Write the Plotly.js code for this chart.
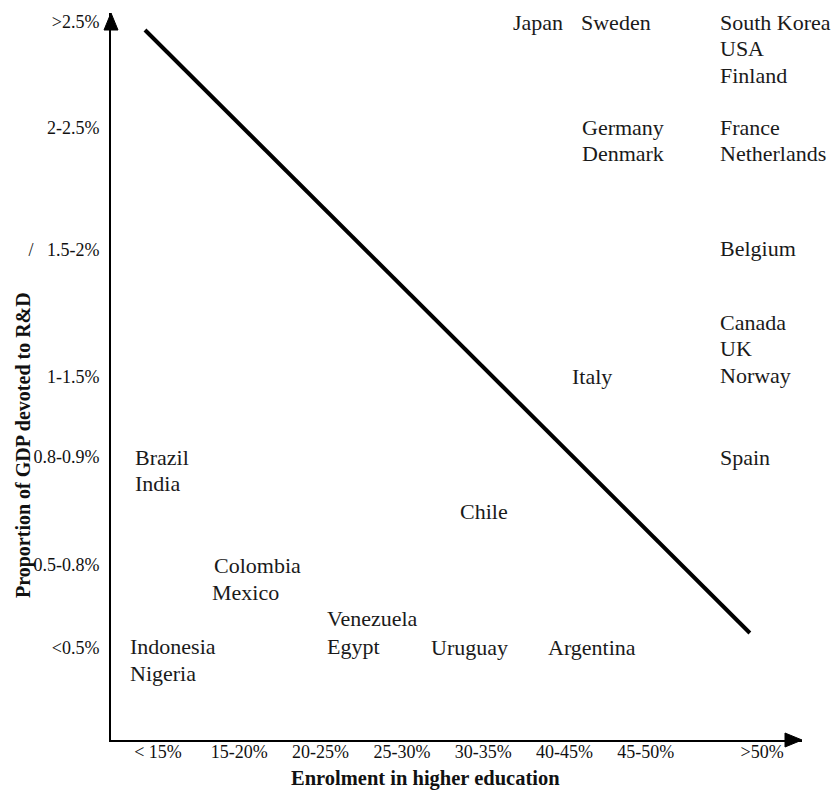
<!DOCTYPE html>
<html>
<head>
<meta charset="utf-8">
<script src="https://cdn.plot.ly/plotly-3.0.1.min.js"></script>
<style>
  html, body { margin: 0; padding: 0; background: #fff; }
  #chart { width: 839px; height: 793px; }
</style>
</head>
<body>
<div id="chart"></div>
<script>
// ---- Data ----
// Enrolment bands (x) and their positions on the enrolment axis
const enrolLabels = ['< 15%', '15-20%', '20-25%', '25-30%', '30-35%', '40-45%', '45-50%', '>50%'];
const enrolTickPos = [0, 1, 2, 3, 4, 5, 6, 7.43];

// R&D bands (y) and their positions on the R&D axis
const rdLabels = ['<0.5%', '0.5-0.8%', '0.8-0.9%', '1-1.5%', '/\u00a0\u00a0\u00a01.5-2%', '2-2.5%', '>2.5%'];
const rdTickPos = [0.92, 1.75, 2.83, 3.63, 4.90, 6.12, 7.18];

// Countries with their placement (enrolment axis, R&D axis)
const countries = ['Japan', 'Sweden', 'South Korea', 'USA', 'Finland',
  'Germany', 'Denmark', 'France', 'Netherlands', 'Belgium',
  'Canada', 'UK', 'Norway', 'Italy', 'Spain',
  'Brazil', 'India', 'Chile', 'Colombia', 'Mexico',
  'Venezuela', 'Egypt', 'Uruguay', 'Argentina', 'Indonesia', 'Nigeria'];
const enrolPos = [4.34, 5.18, 6.89, 6.89, 6.89,
  5.19, 5.19, 6.89, 6.89, 6.89,
  6.89, 6.89, 6.89, 5.07, 6.89,
  -0.31, -0.31, 3.69, 0.66, 0.64,
  2.05, 2.05, 3.33, 4.77, -0.37, -0.37];
const rdPos = [7.18, 7.18, 7.18, 6.92, 6.65,
  6.13, 5.87, 6.13, 5.87, 4.92,
  4.18, 3.92, 3.65, 3.64, 2.83,
  2.83, 2.57, 2.29, 1.75, 1.48,
  1.22, 0.94, 0.93, 0.93, 0.94, 0.67];

// Trend line end points
const trendX = [-0.16, 7.28];
const trendY = [7.10, 1.07];

// ---- Layout geometry ----
const W = 839, H = 793;
const M = { l: 111, r: 37, t: 13, b: 53 };
const pw = W - M.l - M.r, ph = H - M.t - M.b;
const serif = '"Liberation Serif", "DejaVu Serif", serif';

const annotations = countries.map((c, i) => ({
  x: enrolPos[i], y: rdPos[i], xref: 'x', yref: 'y',
  text: c, showarrow: false, xanchor: 'left', yanchor: 'middle',
  font: { family: serif, size: 22, color: '#1a1a1a' }
}));

annotations.push({
  xref: 'paper', yref: 'paper', x: (425 - M.l) / pw, y: (M.t + ph - 778) / ph,
  text: '<b>Enrolment in higher education</b>', showarrow: false,
  xanchor: 'center', yanchor: 'middle',
  font: { family: serif, size: 20.5, color: '#111' }
});
annotations.push({
  xref: 'paper', yref: 'paper', x: (23 - M.l) / pw, y: (M.t + ph - 445) / ph,
  text: '<b>Proportion of GDP devoted to R&amp;D</b>', showarrow: false, textangle: -90,
  xanchor: 'center', yanchor: 'middle',
  font: { family: serif, size: 20, color: '#111' }
});

// Arrow heads (pixel sizes converted to paper fractions)
const aLen = 17, aHalf = 7;
const yArrow = `M ${-aHalf / pw} ${1 - aLen / ph} L ${aHalf / pw} ${1 - aLen / ph} L 0 1 Z`;
const xArrow = `M ${1 - aLen / pw} ${-aHalf / ph} L ${1 - aLen / pw} ${aHalf / ph} L 1 0 Z`;

const traces = [{
  x: trendX, y: trendY, mode: 'lines', type: 'scatter',
  line: { color: '#000', width: 4 }, hoverinfo: 'skip'
}];

const layout = {
  width: W, height: H,
  margin: M,
  paper_bgcolor: '#fff', plot_bgcolor: '#fff',
  showlegend: false,
  font: { family: serif, color: '#111' },
  xaxis: {
    range: [(M.l - 158) / 81.3, (W - M.r - 158) / 81.3],
    tickvals: enrolTickPos, ticktext: enrolLabels,
    showgrid: false, zeroline: false, showline: true, linecolor: '#000', linewidth: 2,
    ticks: '', ticklabelstandoff: -6, tickfont: { family: serif, size: 18, color: '#111' },
    fixedrange: true
  },
  yaxis: {
    range: [0, (ph) / 100],
    tickvals: rdTickPos, ticktext: rdLabels,
    showgrid: false, zeroline: false, showline: true, linecolor: '#000', linewidth: 2,
    ticks: '', ticklabelstandoff: 6, tickfont: { family: serif, size: 18, color: '#111' },
    fixedrange: true
  },
  shapes: [
    { type: 'path', xref: 'paper', yref: 'paper', path: yArrow, fillcolor: '#000', line: { color: '#000', width: 1 } },
    { type: 'path', xref: 'paper', yref: 'paper', path: xArrow, fillcolor: '#000', line: { color: '#000', width: 1 } }
  ],
  annotations: annotations
};

Plotly.newPlot('chart', traces, layout, { displayModeBar: false, staticPlot: true });
</script>
</body>
</html>
